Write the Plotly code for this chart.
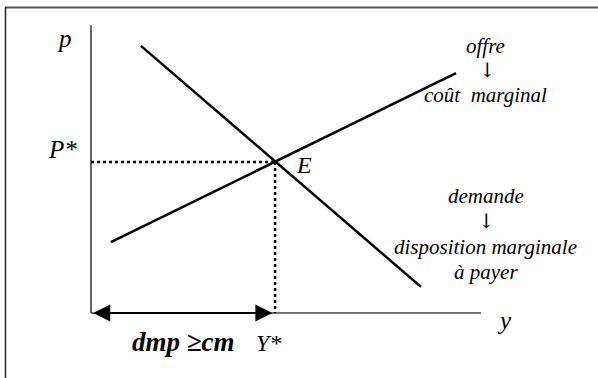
import plotly.graph_objects as go

# Data (economic units; quantity y on horizontal axis, price p on vertical axis)
q_axis_max = 10.0
p_axis_max = 7.38
demand_q = [1.28, 8.46]
demand_p = [6.85, 0.67]
supply_q = [0.51, 9.36]
supply_p = [1.82, 6.15]
eq_q = [4.72]
eq_p = [3.87]

FONT = "Liberation Serif, Times New Roman, serif"
fig = go.Figure()

# axes
fig.add_trace(go.Scatter(x=[0, 0], y=[0, p_axis_max], mode="lines",
                         line=dict(color="black", width=1.2), hoverinfo="skip"))
fig.add_trace(go.Scatter(x=[0, q_axis_max], y=[0, 0], mode="lines",
                         line=dict(color="#444", width=1.5), hoverinfo="skip"))
# curves
fig.add_trace(go.Scatter(x=demand_q, y=demand_p, mode="lines",
                         line=dict(color="black", width=2.5), hoverinfo="skip"))
fig.add_trace(go.Scatter(x=supply_q, y=supply_p, mode="lines",
                         line=dict(color="black", width=2.5), hoverinfo="skip"))
# dotted guides
fig.add_trace(go.Scatter(x=[0, eq_q[0]], y=[eq_p[0], eq_p[0]], mode="lines",
                         line=dict(color="black", width=2.5, dash="dot"), hoverinfo="skip"))
fig.add_trace(go.Scatter(x=[eq_q[0], eq_q[0]], y=[eq_p[0], 0], mode="lines",
                         line=dict(color="black", width=2.5, dash="dot"), hoverinfo="skip"))

def txt(x, y, s, size=21, bold=False, family=FONT):
    fig.add_annotation(x=x, y=y, text=s, showarrow=False, xanchor="center", yanchor="middle",
                       font=dict(family=family, size=size, color="black", style="italic",
                                 weight="bold" if bold else "normal"))

# double arrow
fig.add_annotation(x=eq_q[0] - 0.07, y=0, ax=0.02, ay=0, xref="x", yref="y", axref="x", ayref="y",
                   text="", showarrow=True, arrowside="end+start", arrowhead=2,
                   arrowsize=1.7, arrowwidth=2, arrowcolor="black", standoff=0, startstandoff=0)

# labels (positions in data units)
txt(-0.69, 7.05, "p", 25)
txt(-0.74, 4.2, "P*", 25)
txt(10.6, -0.2, "y", 25)
txt(4.55, -0.78, "Y*", 24)
txt(2.37, -0.75, "dmp \u2265cm", 27, bold=True)
txt(5.45, 3.8, "E", 24)
txt(10.12, 6.85, "offre", 21)
txt(10.16, 6.22, "\u2193", 20, family="DejaVu Serif")
txt(10.12, 5.6, "co\u00fbt  marginal", 21)
txt(10.12, 3.0, "demande", 21)
txt(10.14, 2.37, "\u2193", 20, family="DejaVu Serif")
txt(10.12, 1.68, "disposition marginale", 21)
txt(10.12, 1.05, "\u00e0 payer", 21)

# outer frame (top and left borders)
fig.add_shape(type="line", xref="paper", yref="paper", x0=5 / 598, x1=1, y0=1 - 7.5 / 378, y1=1 - 7.5 / 378,
              line=dict(color="#555", width=2))
fig.add_shape(type="line", xref="paper", yref="paper", x0=5.5 / 598, x1=5.5 / 598, y0=0, y1=1 - 7 / 378,
              line=dict(color="#222", width=1.5))

fig.update_layout(
    width=598, height=378, margin=dict(l=0, r=0, t=0, b=0),
    paper_bgcolor="white", plot_bgcolor="white", showlegend=False,
    xaxis=dict(range=[-91 / 39, (598 - 91) / 39], visible=False, fixedrange=True),
    yaxis=dict(range=[(313 - 378) / 39, 313 / 39], visible=False, fixedrange=True),
)
fig.write_html("out.html", config={"displayModeBar": False},
               post_script="document.body.style.margin='0';document.body.style.overflow='hidden';")
